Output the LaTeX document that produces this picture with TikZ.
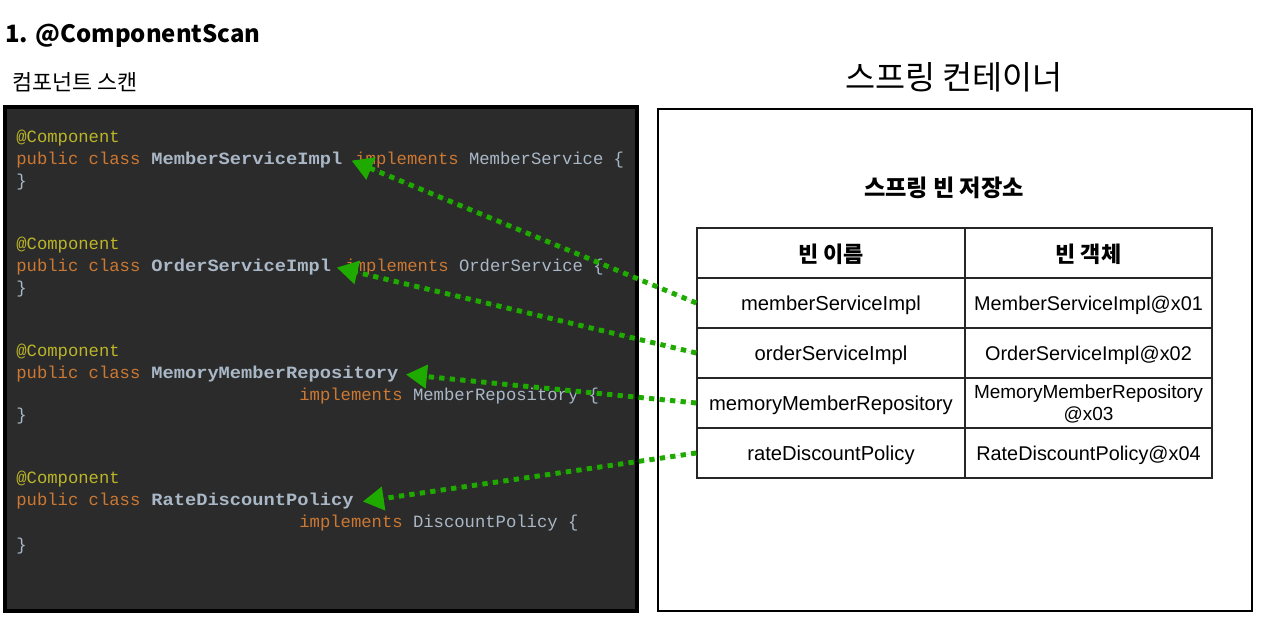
\documentclass[tikz,border=0pt]{standalone}
\usepackage{fontspec}
\usepackage{graphicx}
\usepackage{tikz}
\usetikzlibrary{arrows.meta,positioning}
\newfontfamily\krfont{Noto Sans CJK KR}
\newfontfamily\codefont{Liberation Mono}
\newfontfamily\tablefont{Liberation Sans}
\definecolor{ScanBg}{HTML}{2B2B2B}
\definecolor{ScanAnnot}{HTML}{BBB529}
\definecolor{ScanKeyword}{HTML}{CC7832}
\definecolor{ScanText}{HTML}{A9B7C6}
\definecolor{BeanGreen}{HTML}{1FAA00}
\newcommand{\kw}[1]{\textcolor{ScanKeyword}{#1}}
\newcommand{\clsname}[1]{\scalebox{1.087}[1]{#1}}
\tikzset{
  codepanel/.style={draw=black, line width=1.8pt, fill=ScanBg, inner sep=0pt,
    minimum width=126.4mm, minimum height=100.8mm},
  containerbox/.style={draw=black, line width=1.5pt, fill=white, inner sep=0pt,
    minimum width=118.8mm, minimum height=100.4mm},
  codeline/.style={anchor=base west, inner sep=0pt, text=ScanText,
    font=\codefont\fontsize{9.8}{12}\selectfont},
  annot/.style={codeline, text=ScanAnnot},
  keyword/.style={codeline, text=ScanKeyword},
  classname/.style={codeline, inner xsep=0pt, font=\codefont\bfseries\fontsize{9.8}{12}\selectfont},
  namecell/.style={draw=black!85, line width=0.8pt, inner sep=0pt, text depth=0pt,
    minimum width=53.6mm, minimum height=10mm, font=\tablefont\fontsize{11.5}{13}\selectfont},
  objcell/.style={namecell, minimum width=49.4mm, font=\tablefont\fontsize{11.3}{13}\selectfont},
  headcell/.style={namecell, font=\krfont\bfseries\fontsize{12.5}{14}\selectfont},
  beanwire/.style={-{Triangle[length=12pt, width=13pt]}, draw=BeanGreen, fill=BeanGreen,
    line width=2.8pt, dash pattern=on 3pt off 3pt}
}
\begin{document}
\begin{tikzpicture}[x=0.2mm, y=-0.2mm]
  \useasboundingbox (0,0) rectangle (1274,632);
  \node[anchor=west, inner sep=0pt, font=\krfont\bfseries\fontsize{13.6}{16}\selectfont] (title) at (5,36) {1. @ComponentScan};
  \node[anchor=west, inner sep=0pt, font=\krfont\fontsize{12.4}{14}\selectfont] (scanlabel) at (12,82) {컴포넌트 스캔};
  \node[anchor=center, inner sep=0pt, font=\krfont\fontsize{18.6}{22}\selectfont] (containerlabel) at (954,77) {스프링 컨테이너};

  \node[codepanel] (scan) at (321,359) {};
  \node[containerbox] (container) at (955,360) {};
  \node[font=\krfont\bfseries\fontsize{13.2}{15}\selectfont] (store) at (944,188) {스프링 빈 저장소};

  % code
  \node[annot] (a1) at (16,143) {@Component};
  \node[keyword] (p1) at (16,165) {public class};
  \node[classname] (msi) at (151,165) {\clsname{MemberServiceImpl}};
  \node[codeline] (i1) at (355,165) {\kw{implements} MemberService \{};
  \node[codeline] (e1) at (16,187) {\}};

  \node[annot] (a2) at (16,250) {@Component};
  \node[keyword] (p2) at (16,272) {public class};
  \node[classname] (osi) at (151,272) {\clsname{OrderServiceImpl}};
  \node[codeline] (i2) at (345,272) {\kw{implements} OrderService \{};
  \node[codeline] (e2) at (16,294) {\}};

  \node[annot] (a3) at (16,357) {@Component};
  \node[keyword] (p3) at (16,379) {public class};
  \node[classname] (mmr) at (151,379) {\clsname{MemoryMemberRepository}};
  \node[codeline] (i3) at (299,401) {\kw{implements} MemberRepository \{};
  \node[codeline] (e3) at (16,421) {\}};

  \node[annot] (a4) at (16,484) {@Component};
  \node[keyword] (p4) at (16,506) {public class};
  \node[classname] (rdp) at (151,506) {\clsname{RateDiscountPolicy}};
  \node[codeline] (i4) at (299,528) {\kw{implements} DiscountPolicy \{};
  \node[codeline] (e4) at (16,551) {\}};

  % bean table
  \node[headcell] (hname) at (831,253) {빈 이름};
  \node[headcell, minimum width=49.4mm] (hobj) at (1088.5,253) {빈 객체};
  \node[namecell] (n1) at (831,303) {memberServiceImpl};
  \node[objcell] (o1) at (1088.5,303) {MemberServiceImpl@x01};
  \node[namecell] (n2) at (831,353) {orderServiceImpl};
  \node[objcell] (o2) at (1088.5,353) {OrderServiceImpl@x02};
  \node[namecell] (n3) at (831,403) {memoryMemberRepository};
  \node[objcell, align=center, font=\tablefont\fontsize{10.8}{12.5}\selectfont] (o3) at (1088.5,403) {MemoryMemberRepository\\@x03};
  \node[namecell] (n4) at (831,453) {rateDiscountPolicy};
  \node[objcell] (o4) at (1088.5,453) {RateDiscountPolicy@x04};

  \draw[beanwire] (n1.west) -- ([xshift=5pt]msi.east);
  \draw[beanwire] (n2.west) -- ([xshift=3pt]osi.east);
  \draw[beanwire] (n3.west) -- ([xshift=4pt]mmr.east);
  \draw[beanwire] (n4.west) -- ([xshift=5pt]rdp.east);
\end{tikzpicture}
\end{document}
